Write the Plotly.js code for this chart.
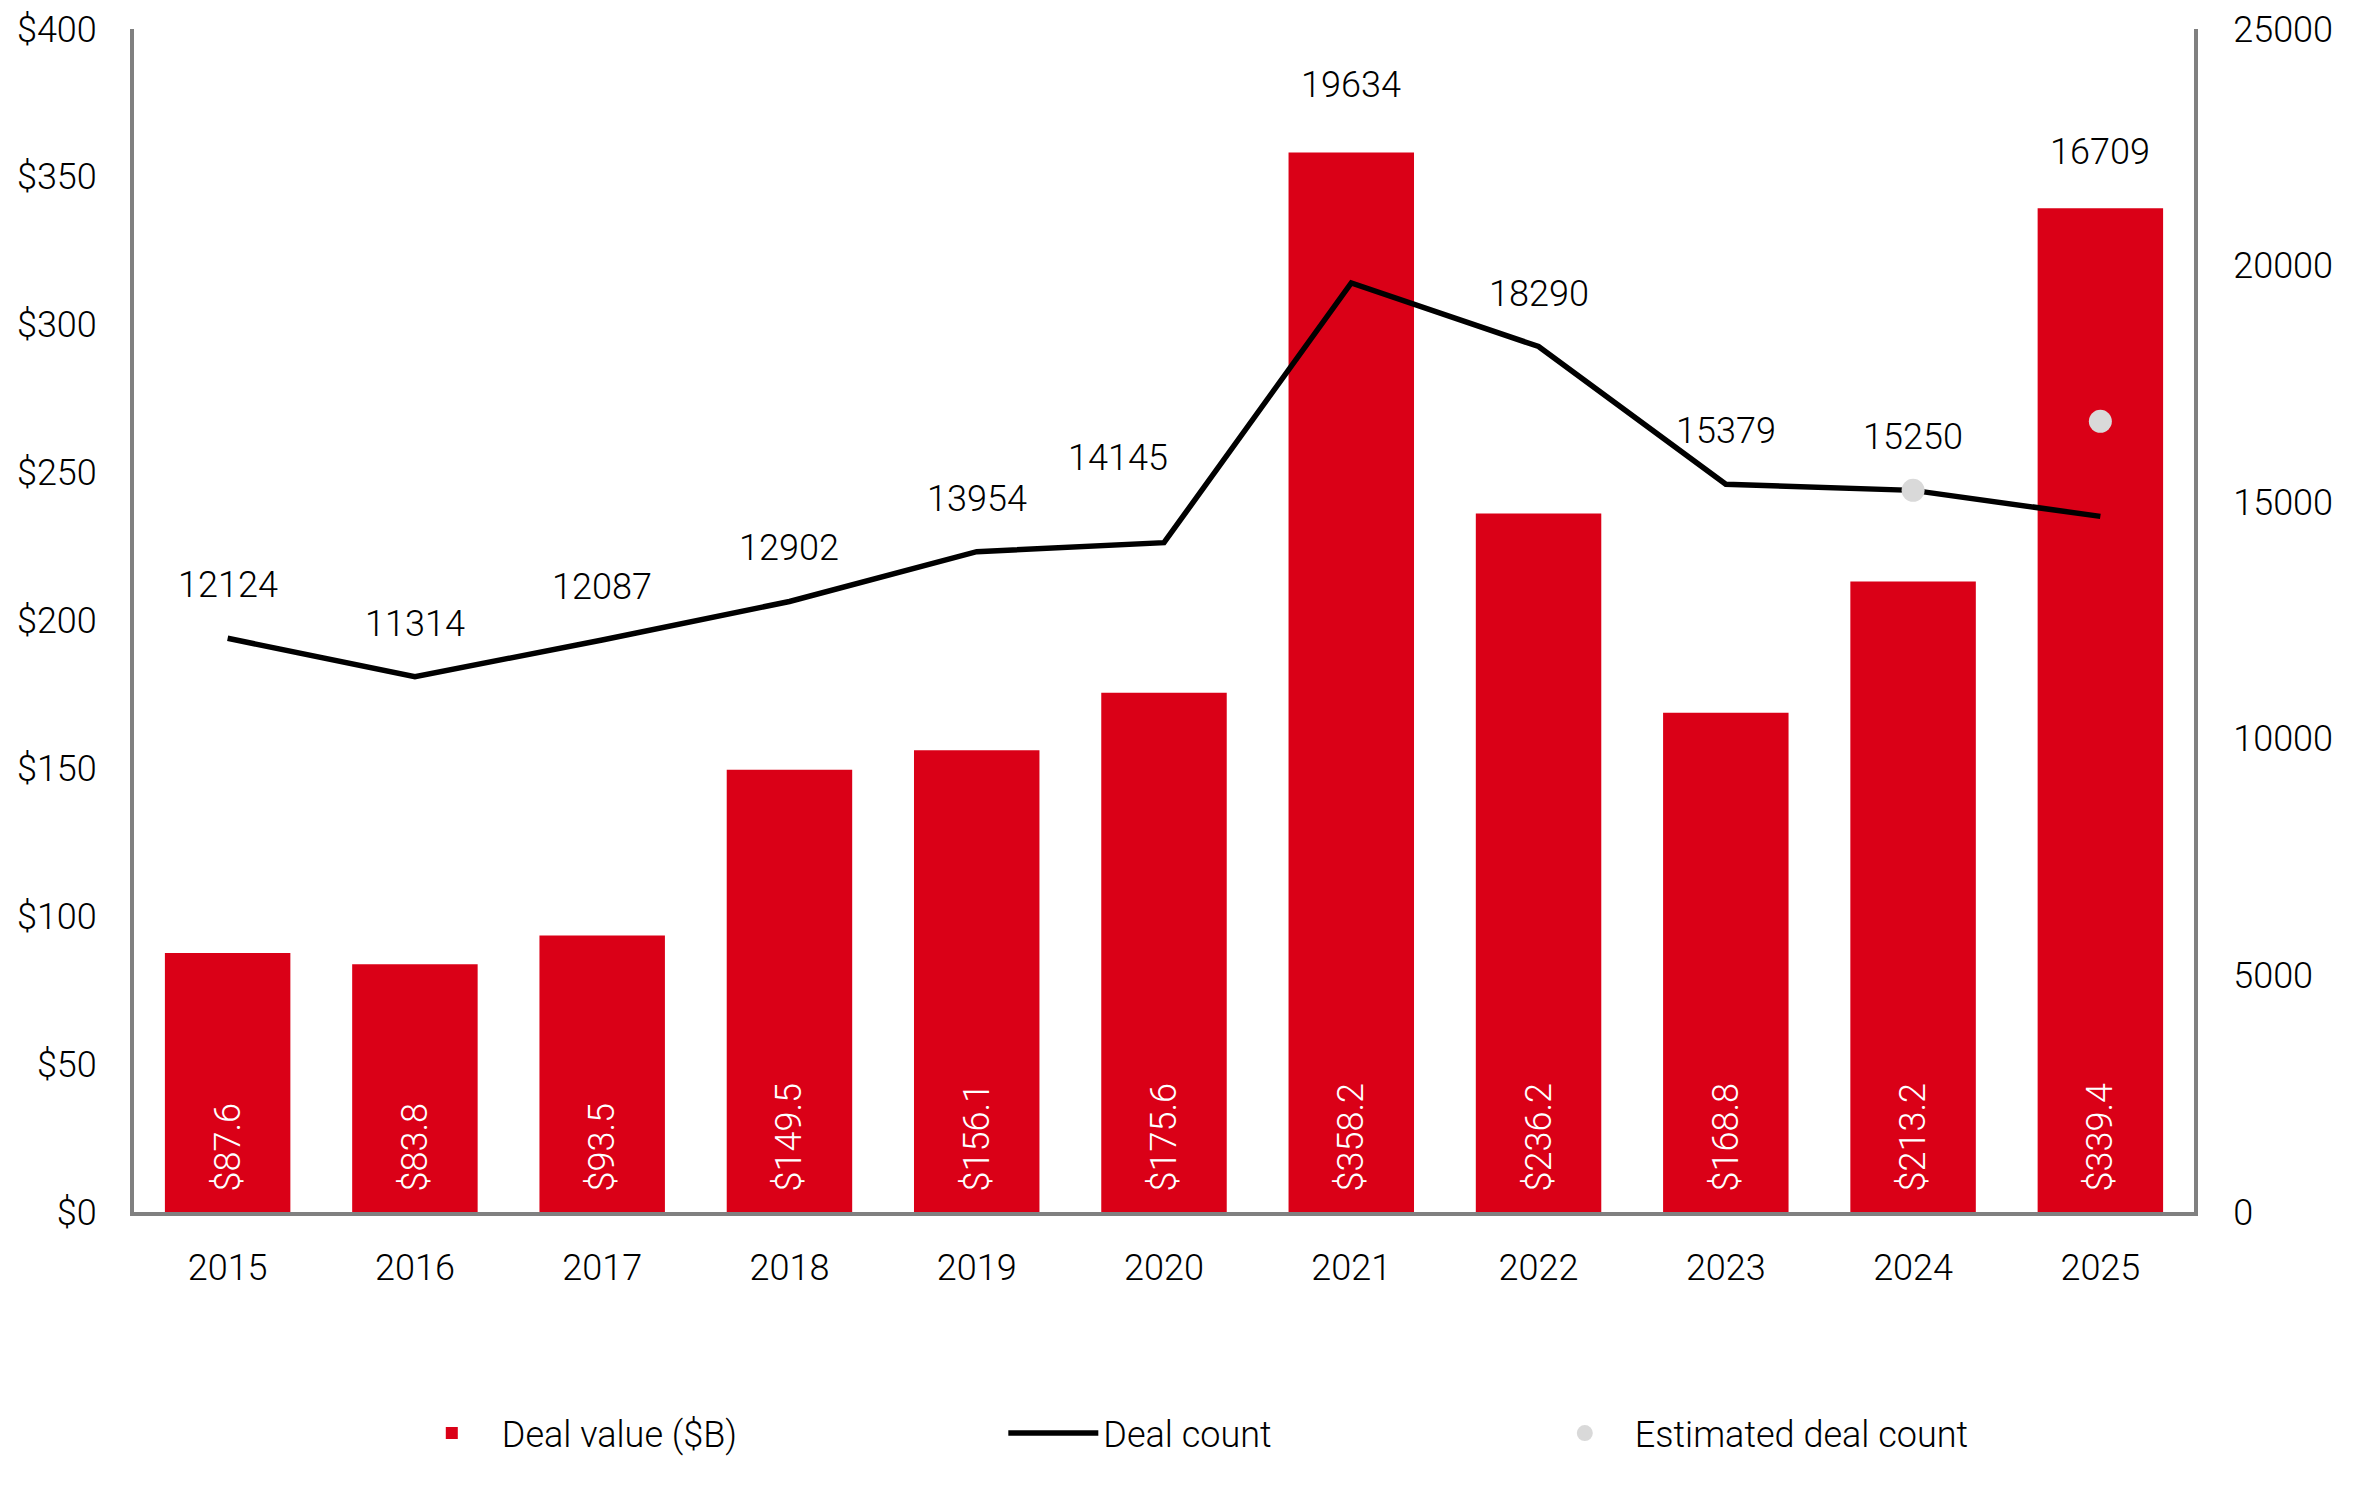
<!DOCTYPE html>
<html>
<head>
<meta charset="utf-8">
<script src="https://cdn.plot.ly/plotly-3.0.1.min.js"></script>
<style>
  body { margin: 0; background: #fff; }
  #plot { width: 2359px; height: 1501px; }
</style>
</head>
<body>
<div id="plot"></div>
<script>
// values
var years = ['2015', '2016', '2017', '2018', '2019', '2020', '2021', '2022', '2023', '2024', '2025'];
var deal_value = [87.6, 83.8, 93.5, 149.5, 156.1, 175.6, 358.2, 236.2, 168.8, 213.2, 339.4];
var deal_count = [12124, 11314, 12087, 12902, 13954, 14145, 19634, 18290, 15379, 15250, 14700];
var est_count = [null, null, null, null, null, null, null, null, null, 15250, 16709];
// which number is printed above each year (last two come from the estimate)
var count_labels = [12124, 11314, 12087, 12902, 13954, 14145, 19634, 18290, 15379, 15250, 16709];
var left_ticks = [0, 50, 100, 150, 200, 250, 300, 350, 400];
var right_ticks = [0, 5000, 10000, 15000, 20000, 25000];

// label nudges in px (style only)
var label_yshift = [53, 53, 53, 53, 53, 85, 198, 53, 53, 53, 269];
var label_xshift = [0, 0, 0, 0, 0, -46, 0, 0, 0, 0, 0];

var FONT = 'Roboto, "Liberation Sans", Arial, sans-serif';
var RED = '#da0017';
var AXIS_GRAY = '#808080';
var LIFT = '\u00a0\u00a0';   // keeps the bar labels off the baseline

var plotDiv = document.getElementById('plot');

var value_trace = {
   name: 'Deal value ($B)',
   type: 'bar',
   x: years,
   y: deal_value,
   marker: {color: RED},
   text: deal_value.map(function(v) { return LIFT + '$' + v.toFixed(1); }),
   textposition: 'inside',
   insidetextanchor: 'start',
   textangle: -90,
   textfont: {family: FONT, size: 36, color: '#ffffff', weight: 300},
   hoverinfo: 'x+y',
   legend: 'legend'
};
var count_trace = {
   name: 'Deal count',
   type: 'scatter',
   mode: 'lines',
   x: years,
   y: deal_count,
   yaxis: 'y2',
   line: {color: '#000000', width: 5.5},
   hoverinfo: 'x+y',
   legend: 'legend2'
};
var est_trace = {
   name: 'Estimated deal count',
   type: 'scatter',
   mode: 'markers',
   x: years,
   y: est_count,
   yaxis: 'y2',
   marker: {color: '#d9d9d9', size: 23},
   hoverinfo: 'x+y',
   legend: 'legend3'
};

// count labels; on a category axis annotations take the category index
var annotations = [];
for (var i = 0; i < years.length; i++) {
   annotations.push({
      x: i,
      y: (i == years.length - 1) ? est_count[i] : deal_count[i],
      xref: 'x',
      yref: 'y2',
      text: String(count_labels[i]),
      showarrow: false,
      yshift: label_yshift[i],
      xshift: label_xshift[i],
      font: {family: FONT, size: 36, color: '#000000', weight: 300}
   });
}

var tickfont = {family: FONT, size: 36, color: '#000000', weight: 300};
var legendbase = {
   orientation: 'h',
   yanchor: 'middle',
   y: -0.187,
   xanchor: 'left',
   itemwidth: 90,
   font: {family: FONT, size: 36, color: '#000000', weight: 300},
   bgcolor: 'rgba(0,0,0,0)'
};

var layout = {
   width: 2359,
   height: 1501,
   margin: {l: 134, r: 165, t: 29, b: 289},
   paper_bgcolor: '#ffffff',
   plot_bgcolor: '#ffffff',
   bargap: 0.33,
   showlegend: true,
   xaxis: {
      type: 'category',
      range: [-0.5, years.length - 0.5],
      showgrid: false,
      showline: true,
      linecolor: AXIS_GRAY,
      linewidth: 4,
      ticks: '',
      ticklabelstandoff: 21,
      tickfont: tickfont
   },
   yaxis: {
      range: [0, 400],
      tickvals: left_ticks,
      ticktext: left_ticks.map(function(v) { return '$' + v; }),
      showgrid: false,
      zeroline: false,
      showline: true,
      linecolor: AXIS_GRAY,
      linewidth: 4,
      ticks: '',
      ticklabelstandoff: 26,
      tickfont: tickfont
   },
   yaxis2: {
      overlaying: 'y',
      side: 'right',
      range: [0, 25000],
      tickvals: right_ticks,
      ticktext: right_ticks.map(String),
      showgrid: false,
      zeroline: false,
      showline: true,
      linecolor: AXIS_GRAY,
      linewidth: 4,
      ticks: '',
      ticklabelstandoff: 28,
      tickfont: tickfont
   },
   legend: Object.assign({}, legendbase, {x: 0.130}),
   legend2: Object.assign({}, legendbase, {x: 0.422}),
   legend3: Object.assign({}, legendbase, {x: 0.680}),
   annotations: annotations
};

Plotly.newPlot(plotDiv, [value_trace, count_trace, est_trace], layout, {displayModeBar: false, staticPlot: true});
</script>
</body>
</html>
